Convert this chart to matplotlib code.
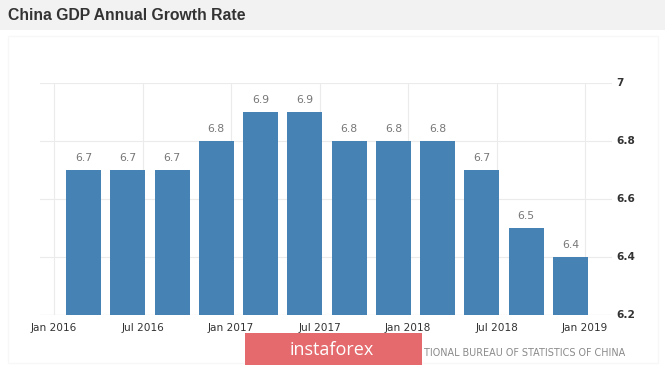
import matplotlib
matplotlib.use("Agg")
import matplotlib.pyplot as plt
from matplotlib.patches import Rectangle

# Data
quarters = ["Q1 2016", "Q2 2016", "Q3 2016", "Q4 2016",
            "Q1 2017", "Q2 2017", "Q3 2017", "Q4 2017",
            "Q1 2018", "Q2 2018", "Q3 2018", "Q4 2018"]
growth = [6.7, 6.7, 6.7, 6.8, 6.9, 6.9, 6.8, 6.8, 6.8, 6.7, 6.5, 6.4]
tick_labels = ["Jan 2016", "Jul 2016", "Jan 2017", "Jul 2017",
               "Jan 2018", "Jul 2018", "Jan 2019"]
y_ticks = [6.2, 6.4, 6.6, 6.8, 7.0]
y_tick_labels = ["6.2", "6.4", "6.6", "6.8", "7"]

W, H = 665, 367
fig = plt.figure(figsize=(W / 100, H / 100), dpi=100)
fig.patch.set_facecolor("white")

# title bar
fig.patches.append(Rectangle((0, 1 - 30 / H), 1, 30 / H, transform=fig.transFigure,
                             facecolor="#f2f2f2", edgecolor="none", zorder=0))
fig.text(8 / W, 1 - 15 / H, "China GDP Annual Growth Rate", fontsize=11.3,
         fontweight="bold", color="#333333", family="Liberation Sans",
         ha="left", va="center")

# faint frame
fig.patches.append(Rectangle((8 / W, 4 / H), 650 / W, (H - 40) / H, transform=fig.transFigure,
                             facecolor="none", edgecolor="#f7f7f7", lw=1, zorder=0))

left, right, top, bottom = 40, 612, 83, 315
ax = fig.add_axes([left / W, 1 - bottom / H, (right - left) / W, (bottom - top) / H])
ax.set_facecolor("white")

x = list(range(len(growth)))
bars = ax.bar(x, [g - 6.2 for g in growth], bottom=6.2, width=0.79,
              color="#4682B4", zorder=3)
for xi, g in zip(x, growth):
    ax.text(xi, g + 0.025, f"{g:.1f}", ha="center", va="bottom",
            fontsize=7.8, color="#777777", family="DejaVu Sans")

offset = -0.667
tick_pos = [2 * i + offset for i in range(len(tick_labels))]
ax.set_xticks(tick_pos)
ax.set_xticklabels(tick_labels, fontsize=7.6, color="#333333", family="DejaVu Sans")
ax.set_xlim(-0.983, 11.94)
ax.set_ylim(6.2, 7.0)
ax.yaxis.tick_right()
ax.set_yticks(y_ticks)
ax.set_yticklabels(y_tick_labels, fontsize=7.6, color="#333333", family="DejaVu Sans",
                   fontweight="bold")
for lab in ax.get_yticklabels():
    lab.set_verticalalignment("center")
ax.tick_params(axis="both", length=0)
ax.tick_params(axis="x", pad=6)
ax.tick_params(axis="y", pad=3)
ax.grid(True, color="#ebebeb", lw=0.8, zorder=0)
for s in ax.spines.values():
    s.set_visible(False)
ax.axhline(6.2, color="#dddddd", lw=0.8, zorder=2)

# footer
fig.patches.append(Rectangle((245 / W, 1 - 365 / H), 177 / W, 32 / H, transform=fig.transFigure,
                             facecolor="#e46a6d", edgecolor="none", zorder=5))
fig.text(332 / W, 1 - 350 / H, "instaforex", fontsize=13, color="white",
         family="Open Sans", ha="center", va="center", zorder=6)
fig.text(424 / W, 1 - 353 / H, "TIONAL BUREAU OF STATISTICS OF CHINA", fontsize=6.9,
         color="#8a8a8a", family="DejaVu Sans", ha="left", va="center")

fig.savefig("out.png", dpi=100)
